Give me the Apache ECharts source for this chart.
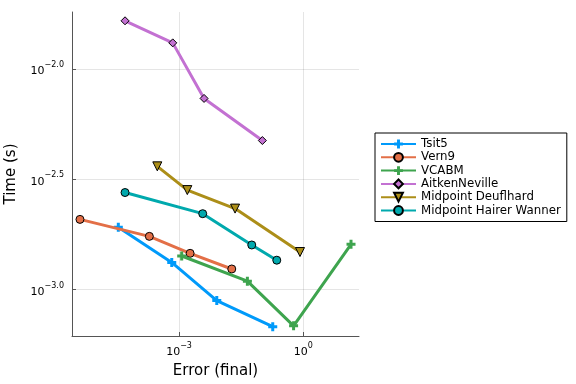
<!DOCTYPE html>
<html><head><meta charset="utf-8">
<script src="https://cdn.jsdelivr.net/npm/echarts@6/dist/echarts.min.js"></script>
<style>html,body{margin:0;padding:0;background:#fff}#c{width:576px;height:384px}</style>
</head><body><div id="c"></div>
<script>
// Data (error, time)
const seriesNames = ['Tsit5','Vern9','VCABM','AitkenNeville','Midpoint Deuflhard','Midpoint Hairer Wanner'];
const tsit5Err = [3.42e-5, 6.67e-4, 8.15e-3, 0.183];
const tsit5Time = [1.914e-3, 1.327e-3, 8.91e-4, 6.78e-4];
const vern9Err = [4.06e-6, 1.92e-4, 1.85e-3, 0.01875];
const vern9Time = [2.08e-3, 1.742e-3, 1.459e-3, 1.239e-3];
const vcabmErr = [1.16e-3, 0.0447, 0.583, 14.19];
const vcabmTime = [1.419e-3, 1.091e-3, 6.84e-4, 1.603e-3];
const aitkenErr = [4.97e-5, 7.05e-4, 4.02e-3, 0.1028];
const aitkenTime = [0.01656, 0.01315, 7.36e-3, 4.74e-3];
const deufErr = [2.99e-4, 1.585e-3, 0.02254, 0.832];
const deufTime = [3.62e-3, 2.825e-3, 2.328e-3, 1.479e-3];
const hwErr = [4.97e-5, 3.73e-3, 0.0570, 0.229];
const hwTime = [2.754e-3, 2.208e-3, 1.592e-3, 1.358e-3];
const xTickExps = [-3, 0];
const yTickExps = [-3.0, -2.5, -2.0];

const colors = ['#009afa','#e36f47','#3ea44e','#c371d2','#ac8e18','#00a9ad'];
const plus = 'path://M3,0H6V3H9V6H6V9H3V6H0V3H3Z';
const dtri = 'path://M0,0L10,0L5,9Z';
const symbols = [plus,'circle',plus,'diamond',dtri,'circle'];
const sizes = [9,8,9,8,9,8];
const borders = [0,1,0,1,1,1];
const errs = [tsit5Err, vern9Err, vcabmErr, aitkenErr, deufErr, hwErr];
const times = [tsit5Time, vern9Time, vcabmTime, aitkenTime, deufTime, hwTime];
const font = 'DejaVu Sans';

function lbl(v, dec){
  const e = dec ? v.toFixed(1) : String(Math.round(v));
  return '{b|10}{s|' + e.replace('-', '\u2212') + '}';
}
const rich = {
  b: {fontSize: 11, fontFamily: font, color: '#000', lineHeight: 16, verticalAlign: 'bottom'},
  s: {fontSize: 8, fontFamily: font, color: '#000', lineHeight: 16, verticalAlign: 'top'}
};

const series = seriesNames.map((n, i) => ({
  name: n, type: 'line',
  data: errs[i].map((e, k) => [Math.log10(e), Math.log10(times[i][k])]),
  symbol: symbols[i], symbolSize: sizes[i],
  lineStyle: {color: colors[i], width: 3},
  itemStyle: {color: colors[i], borderColor: '#000', borderWidth: borders[i]},
  emphasis: {disabled: true}, animation: false, z: 2 + i
}));

const chart = echarts.init(document.getElementById('c'), null, {renderer: 'canvas'});
chart.setOption({
  animation: false,
  backgroundColor: '#fff',
  grid: {left: 72, right: 217, top: 12, bottom: 47, containLabel: false},
  xAxis: {
    type: 'value', min: -5.584, max: 1.345,
    name: 'Error (final)', nameLocation: 'middle', nameGap: 28,
    nameTextStyle: {fontSize: 15, fontFamily: font, color: '#000'},
    axisLine: {show: true, onZero: false, lineStyle: {color: '#555', width: 1}},
    axisTick: {show: true, inside: true, length: 4, customValues: xTickExps, lineStyle: {color: '#555'}},
    axisLabel: {customValues: xTickExps, formatter: v => lbl(v, false), rich: rich, margin: 6},
    splitLine: {show: true, lineStyle: {color: 'rgba(0,0,0,0.1)', width: 1}}
  },
  yAxis: {
    type: 'value', min: -3.211, max: -1.741,
    name: 'Time (s)', nameLocation: 'middle', nameGap: 53, nameRotate: 90,
    nameTextStyle: {fontSize: 15, fontFamily: font, color: '#000'},
    axisLine: {show: true, onZero: false, lineStyle: {color: '#555', width: 1}},
    axisTick: {show: true, inside: true, length: 4, customValues: yTickExps, lineStyle: {color: '#555'}},
    axisLabel: {customValues: yTickExps, formatter: v => lbl(v, true), rich: rich, margin: 8},
    splitLine: {show: true, lineStyle: {color: 'rgba(0,0,0,0.1)', width: 1}}
  },
  legend: {
    orient: 'vertical', left: 375, top: 133,
    padding: [5, 6, 5, 5], itemWidth: 35, itemHeight: 11, itemGap: 1.3,
    borderColor: '#000', borderWidth: 1, backgroundColor: '#fff',
    textStyle: {fontSize: 11.8, fontFamily: font, color: '#000'},
    data: seriesNames
  },
  series: series
});
</script></body></html>
